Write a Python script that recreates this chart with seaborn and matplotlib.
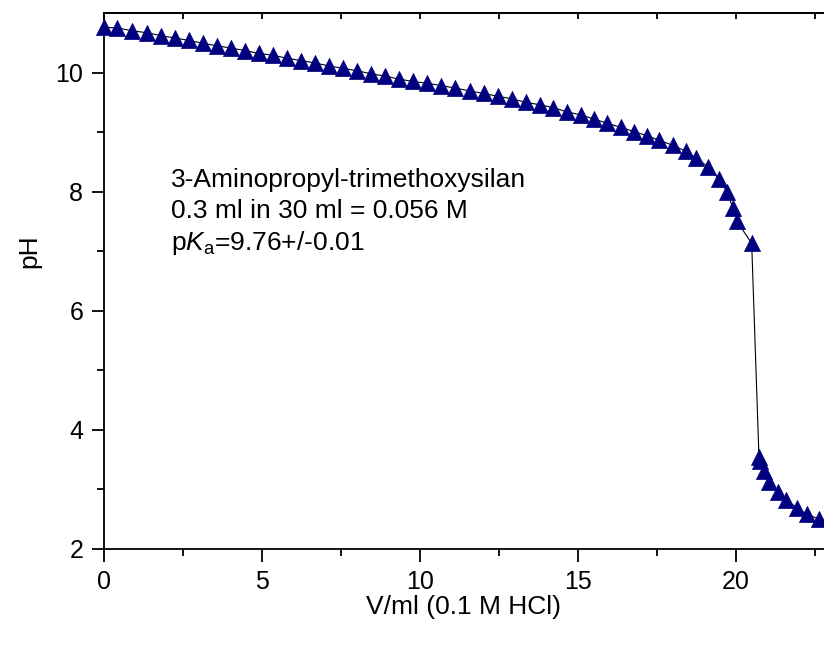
import numpy as np
import pandas as pd
import matplotlib
matplotlib.use("Agg")
import matplotlib.pyplot as plt
import seaborn as sns

# Data
volume_ml = [0.00, 0.42, 0.90, 1.35, 1.80, 2.24, 2.69, 3.14, 3.58, 4.03,
             4.47, 4.91, 5.36, 5.80, 6.25, 6.69, 7.13, 7.58, 8.02, 8.45,
             8.90, 9.35, 9.78, 10.24, 10.68, 11.13, 11.58, 12.02, 12.48, 12.92,
             13.35, 13.80, 14.23, 14.66, 15.09, 15.51, 15.93, 16.36, 16.78, 17.19,
             17.59, 18.01, 18.42, 18.76, 19.12, 19.46, 19.74, 19.91, 20.05, 20.51,
             20.74, 20.78, 20.91, 21.07, 21.33, 21.61, 21.95, 22.27, 22.65]
ph_values = [10.76, 10.75, 10.70, 10.67, 10.62, 10.58, 10.54, 10.49, 10.45, 10.41,
             10.37, 10.32, 10.29, 10.24, 10.20, 10.16, 10.11, 10.07, 10.03, 9.98,
             9.94, 9.89, 9.85, 9.82, 9.78, 9.74, 9.69, 9.65, 9.60, 9.56,
             9.50, 9.46, 9.41, 9.34, 9.29, 9.22, 9.15, 9.08, 9.01, 8.94,
             8.86, 8.78, 8.68, 8.56, 8.42, 8.22, 7.99, 7.73, 7.50, 7.13,
             3.55, 3.48, 3.31, 3.13, 2.96, 2.82, 2.69, 2.58, 2.50]

x_ticks = [0, 5, 10, 15, 20]
y_ticks = [2, 4, 6, 8, 10]
x_label = "V/ml (0.1 M HCl)"
y_label = "pH"
annotation_lines = ["3-Aminopropyl-trimethoxysilan",
                    "0.3 ml in 30 ml = 0.056 M",
                    r"p$\mathit{K}_{\mathrm{a}}$=9.76+/-0.01"]

df = pd.DataFrame({"V": volume_ml, "pH": ph_values})

sns.set_style("ticks")
plt.rcParams["font.family"] = ["Liberation Sans", "DejaVu Sans"]
plt.rcParams["mathtext.fontset"] = "custom"
plt.rcParams["mathtext.rm"] = "Liberation Sans"
plt.rcParams["mathtext.it"] = "Liberation Sans:italic"
for key in ["text.color", "axes.labelcolor", "xtick.color", "ytick.color",
            "axes.edgecolor", "xtick.labelcolor", "ytick.labelcolor"]:
    plt.rcParams[key] = "black"

W, H = 824, 648
fig = plt.figure(figsize=(W / 100, H / 100), dpi=100)
ax = fig.add_axes([104 / W, 1 - 549 / H, 1 - 104 / W, (549 - 13) / H])

sns.lineplot(data=df, x="V", y="pH", sort=False, estimator=None,
             color="black", linewidth=0.8, ax=ax, zorder=2)
sns.scatterplot(data=df, x="V", y="pH", marker="^", s=135, color="#000080",
                edgecolor="#000080", linewidth=0.5, ax=ax, zorder=3, clip_on=False)

ax.set_xlim(0, 22.8)
ax.set_ylim(2, 11.0)
ax.set_xticks(x_ticks)
ax.set_yticks(y_ticks)
ax.set_xticks(np.arange(0, 23, 2.5), minor=True)
ax.set_yticks(np.arange(2, 11, 1), minor=True)

ax.tick_params(axis="both", which="major", direction="out", length=9, width=1.3,
               labelsize=18, pad=6)
ax.tick_params(axis="both", which="minor", direction="out", length=5, width=1.3)

for side in ["left", "bottom", "top"]:
    ax.spines[side].set_linewidth(1.3)
ax.spines["right"].set_visible(False)

top = ax.secondary_xaxis("top")
top.set_xticks(np.arange(0, 23, 2.5))
top.tick_params(direction="in", length=4, width=1.3, labeltop=False)
top.spines["top"].set_linewidth(1.3)

ax.set_xlabel(x_label, fontsize=19, labelpad=1)
ax.set_ylabel(y_label, fontsize=19)
ax.yaxis.set_label_coords((41 - 104) / 720, (549 - 251) / 536)

for i, line in enumerate(annotation_lines):
    fig.text(171 / W, 1 - (187 + i * 31.5) / H, line, fontsize=19,
             va="baseline", ha="left")

fig.savefig("out.png", dpi=100)
